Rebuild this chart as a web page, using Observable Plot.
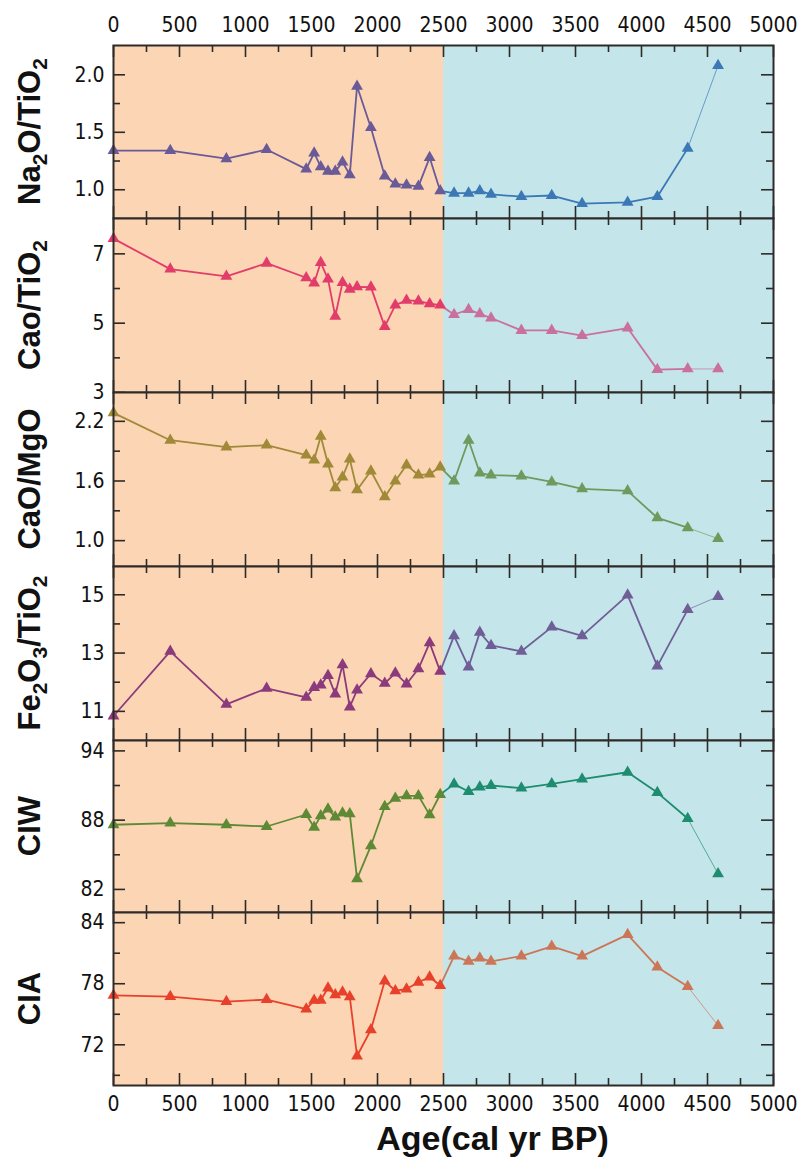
<!DOCTYPE html>
<html>
<head>
<meta charset="utf-8">
<script src="https://cdn.jsdelivr.net/npm/d3@7"></script>
<script src="https://cdn.jsdelivr.net/npm/@observablehq/plot@0.6"></script>
<style>
  body { margin: 0; background: #fff; }
  #chart { width: 808px; }
  #chart svg { display: block; }
</style>
</head>
<body>
<div id="chart"></div>
<script>
// ---------------- data ----------------
const ages = [0, 430, 855, 1160, 1460, 1520, 1570, 1625, 1680, 1735, 1790, 1845, 1950, 2055, 2135, 2220, 2310, 2395, 2475,
              2580, 2690, 2775, 2860, 3090, 3320, 3550, 3895, 4120, 4350, 4580];
const na2oTio2 = [1.34, 1.34, 1.27, 1.35, 1.18, 1.32, 1.20, 1.16, 1.16, 1.24, 1.13, 1.90, 1.54, 1.12, 1.05, 1.04, 1.03, 1.28, 0.99,
                  0.97, 0.97, 0.99, 0.96, 0.94, 0.95, 0.88, 0.89, 0.94, 1.36, 2.08];
const caoTio2 = [7.44, 6.56, 6.35, 6.73, 6.31, 6.16, 6.75, 6.27, 5.20, 6.17, 5.98, 6.05, 6.04, 4.90, 5.52, 5.66, 5.64, 5.56, 5.52,
                 5.25, 5.39, 5.27, 5.15, 4.79, 4.79, 4.64, 4.86, 3.66, 3.68, 3.68];
const caoMgo = [2.285, 2.01, 1.94, 1.96, 1.86, 1.81, 2.05, 1.77, 1.53, 1.64, 1.82, 1.51, 1.70, 1.44, 1.60, 1.76, 1.66, 1.67, 1.74,
                1.60, 2.01, 1.68, 1.66, 1.65, 1.59, 1.52, 1.50, 1.23, 1.13, 1.02];
const fe2o3Tio2 = [10.84, 13.06, 11.24, 11.79, 11.48, 11.82, 11.90, 12.23, 11.59, 12.60, 11.15, 11.73, 12.29, 11.96, 12.31, 11.94, 12.46, 13.35, 12.37,
                   13.59, 12.52, 13.71, 13.26, 13.06, 13.89, 13.59, 14.99, 12.55, 14.49, 14.94];
const ciw = [87.60, 87.74, 87.60, 87.45, 88.49, 87.37, 88.37, 88.95, 88.26, 88.61, 88.55, 82.92, 85.78, 89.18, 89.90, 90.11, 90.11, 88.46, 90.22,
             91.12, 90.48, 90.86, 91.00, 90.77, 91.14, 91.55, 92.15, 90.39, 88.14, 83.35];
const cia = [76.85, 76.74, 76.24, 76.44, 75.50, 76.37, 76.37, 77.58, 76.91, 77.18, 76.71, 70.90, 73.48, 78.26, 77.31, 77.48, 78.15, 78.66, 77.82,
             80.71, 80.20, 80.51, 80.20, 80.71, 81.68, 80.71, 82.82, 79.63, 77.72, 73.89];

const zoneBounds = [0, 2500, 5000];
const xMajorTicks = [0, 500, 1000, 1500, 2000, 2500, 3000, 3500, 4000, 4500, 5000];
const xMinorTicks = [250, 750, 1250, 1750, 2250, 2750, 3250, 3750, 4250, 4750];

const yMajor = [[1.0, 1.5, 2.0], [3, 5, 7], [1.0, 1.6, 2.2], [11, 13, 15], [82, 88, 94], [72, 78, 84]];
const yMinor = [[1.25, 1.75], [4, 6], [1.3, 1.9], [12, 14], [85, 91], [69, 75, 81]];
const yDomains = [[0.75, 2.255], [3, 8.02], [0.74, 2.49], [10, 15.97], [80, 94.9], [68, 85]];
const yLabels = [
  [["Na", 0], ["2", 1], ["O/TiO", 0], ["2", 1]],
  [["Cao/TiO", 0], ["2", 1]],
  [["CaO/MgO", 0]],
  [["Fe", 0], ["2", 1], ["O", 0], ["3", 1], ["/TiO", 0], ["2", 1]],
  [["CIW", 0]],
  [["CIA", 0]]
];
const xTitle = "Age(cal yr BP)";
const seriesValues = [na2oTio2, caoTio2, caoMgo, fe2o3Tio2, ciw, cia];

// ---------------- styles ----------------
const yFormats = [".1f", "d", ".1f", "d", "d", "d"];
const colors1 = ["#6a5a98", "#e23d6a", "#a08a38", "#8b3b7b", "#5e8a36", "#e8412b"];
const colors2 = ["#3b78b5", "#c9709c", "#6e9a5e", "#6f5f96", "#1e8c6e", "#cc7658"];
const zoneFills = ["#fcd5b5", "#c4e6ea"];
const frameColor = "#2e2a28";
const panelH = [173, 174, 174, 174, 172, 173];
const W = 808, ML = 113, MR = 35;
const tickFont = '"Liberation Sans Narrow", "Arial Narrow", "DejaVu Sans Condensed", sans-serif';
const labelFont = '"Liberation Sans", Arial, sans-serif';

const chart = document.getElementById("chart");
const innerW = W - ML - MR;

seriesValues.forEach((vals, p) => {
  const first = p === 0, last = p === seriesValues.length - 1;
  const mt = first ? 45 : 0;
  const mb = last ? 80 : 0;
  const h = panelH[p];
  const rows = ages.map((a, i) => ({age: a, v: vals[i]}));
  const iEnd1 = rows.filter(d => d.age < zoneBounds[1]).length - 1;
  const n = rows.length;
  const pts1 = rows.slice(0, iEnd1 + 1);
  const pts2 = rows.slice(iEnd1 + 1);
  const seg2 = rows.slice(iEnd1, n - 1);
  const seg3 = rows.slice(n - 2);
  const zones = [{x1: zoneBounds[0], x2: zoneBounds[1]}, {x1: zoneBounds[1], x2: zoneBounds[2]}];

  const marks = [
    Plot.rect([zones[0]], {x1: "x1", x2: "x2", fill: zoneFills[0]}),
    Plot.rect([zones[1]], {x1: "x1", x2: "x2", fill: zoneFills[1]}),
    Plot.line(pts1, {x: "age", y: "v", stroke: colors1[p], strokeWidth: 1.8}),
    Plot.line(seg2, {x: "age", y: "v", stroke: colors2[p], strokeWidth: 1.8}),
    Plot.line(seg3, {x: "age", y: "v", stroke: colors2[p], strokeWidth: 0.9, strokeOpacity: 0.75}),
    Plot.dot(pts1, {x: "age", y: "v", symbol: "triangle", r: 4.4, fill: colors1[p], stroke: "none"}),
    Plot.dot(pts2, {x: "age", y: "v", symbol: "triangle", r: 4.4, fill: colors2[p], stroke: "none"}),
    Plot.tickX(xMajorTicks, {x: d => d, insetTop: h - 12, stroke: frameColor, strokeWidth: 1.6}),
    Plot.tickX(xMinorTicks, {x: d => d, insetTop: h - 7, stroke: frameColor, strokeWidth: 1.6}),
    Plot.tickX(xMajorTicks, {x: d => d, insetBottom: h - 12, stroke: frameColor, strokeWidth: 1.6}),
    Plot.tickX(xMinorTicks, {x: d => d, insetBottom: h - 7, stroke: frameColor, strokeWidth: 1.6}),
    Plot.tickY(yMajor[p], {y: d => d, insetRight: innerW - 12, stroke: frameColor, strokeWidth: 1.6}),
    Plot.tickY(yMinor[p], {y: d => d, insetRight: innerW - 7, stroke: frameColor, strokeWidth: 1.6}),
    Plot.tickY(yMajor[p], {y: d => d, insetLeft: innerW - 12, stroke: frameColor, strokeWidth: 1.6}),
    Plot.tickY(yMinor[p], {y: d => d, insetLeft: innerW - 7, stroke: frameColor, strokeWidth: 1.6}),
    Plot.frame({stroke: frameColor, strokeWidth: 2}),
    Plot.axisY(yMajor[p], {anchor: "left", tickSize: 0, tickPadding: 9, label: null,
      tickFormat: d3.format(yFormats[p]), fontSize: 21, fontFamily: tickFont, fill: "#111"})
  ];
  if (first) marks.push(Plot.axisX(xMajorTicks, {anchor: "top", tickSize: 0, tickPadding: 14, label: null,
      tickFormat: d3.format("d"), fontSize: 21, fontFamily: tickFont, fill: "#111"}));
  if (last) marks.push(Plot.axisX(xMajorTicks, {anchor: "bottom", tickSize: 0, tickPadding: 11, label: null,
      tickFormat: d3.format("d"), fontSize: 21, fontFamily: tickFont, fill: "#111"}));

  const svg = Plot.plot({
    width: W,
    height: mt + h + mb,
    marginLeft: ML, marginRight: MR, marginTop: mt, marginBottom: mb,
    x: {domain: [zoneBounds[0], zoneBounds[2]], ...(first || last ? {} : {axis: null})},
    y: {domain: yDomains[p]},
    style: {fontFamily: tickFont, fontSize: "21px", background: "transparent", overflow: "visible"},
    marks
  });

  const s = d3.select(svg);
  const t = s.append("text")
    .attr("transform", `translate(40, ${mt + h / 2}) rotate(-90)`)
    .attr("text-anchor", "middle")
    .attr("font-family", labelFont)
    .attr("font-weight", "bold")
    .attr("font-size", 31)
    .attr("fill", "#111");
  let shifted = false;
  yLabels[p].forEach(([str, sub]) => {
    const ts = t.append("tspan").text(str);
    if (sub && !shifted) { ts.attr("font-size", 21).attr("dy", 7); shifted = true; }
    else if (!sub && shifted) { ts.attr("dy", -7); shifted = false; }
    else if (sub) ts.attr("font-size", 21);
  });
  if (last) {
    s.append("text")
      .attr("x", ML + innerW * 0.575)
      .attr("y", mt + h + 65)
      .attr("text-anchor", "middle")
      .attr("font-family", labelFont)
      .attr("font-weight", "bold")
      .attr("font-size", 34)
      .attr("fill", "#111")
      .text(xTitle);
  }
  chart.appendChild(svg);
});
</script>
</body>
</html>
